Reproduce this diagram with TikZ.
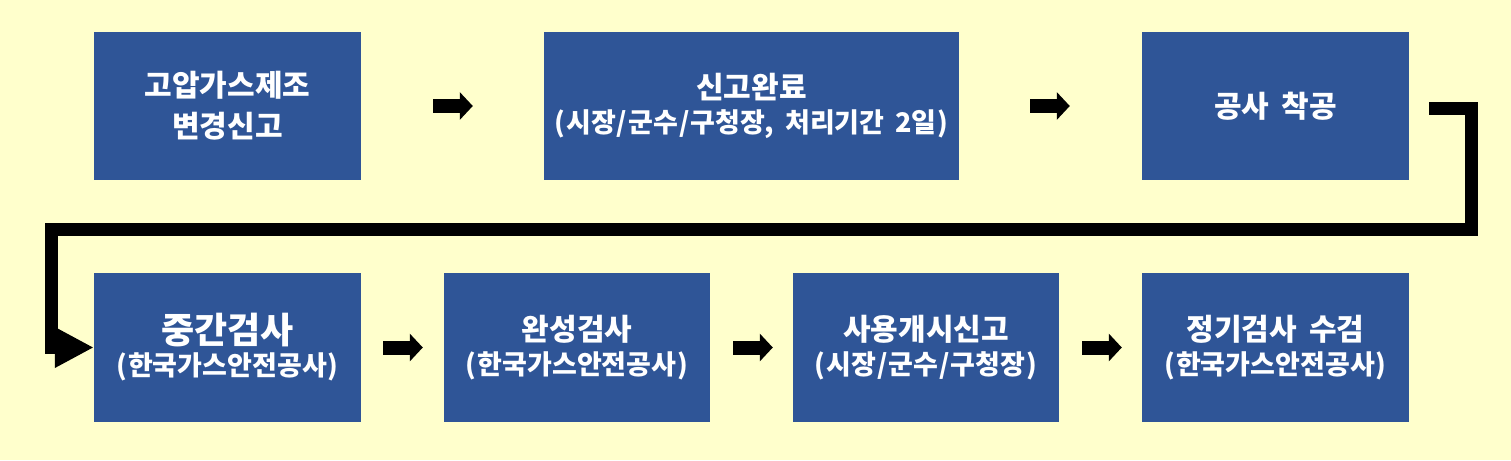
\documentclass[tikz,border=0pt]{standalone}
\usepackage{fontspec}
\setmainfont{Noto Sans CJK KR}
\usetikzlibrary{arrows.meta}
\definecolor{bgyellow}{HTML}{FFFFCC}
\definecolor{boxblue}{HTML}{2F5597}
\newcommand{\subline}[1]{{\fontsize{27}{27}\selectfont #1}}
\newcommand{\wsp}{\hspace{0.4em}}
\newcommand{\slsh}{\kern1pt/\kern1pt}
\begin{document}
\begin{tikzpicture}[x=1pt,y=-1pt,
  box/.style={fill=boxblue, draw=none, text=white, align=center, inner sep=0pt,
    minimum height=148pt, font=\bfseries\fontsize{30}{41}\selectfont},
  row2/.style={minimum height=149pt, font=\bfseries\fontsize{30}{36}\selectfont},
  fat/.style={line width=14pt, line cap=butt, -{Triangle[length=13pt,width=27pt]}},
  elbow/.style={line width=13pt, line join=miter, line cap=butt, -{Triangle[length=39pt,width=38pt]}}]
\useasboundingbox (0,0) rectangle (1511,460);
\fill[bgyellow] (0,0) rectangle (1511,460);
% row 1
\node[box, minimum width=267pt] (b1) at (227.5,106) {고압가스제조\\변경신고};
\node[box, minimum width=415pt, font=\bfseries\fontsize{30}{39}\selectfont] (b2) at (751.5,106)
  {신고완료\\[-5pt]\subline{(\kern1pt시장\slsh 군수\slsh 구청장,\wsp 처리기간\wsp 2일\kern1pt)}};
\node[box, minimum width=267pt] (b3) at (1275.5,106) {공사\wsp 착공};
% row 2
\node[box, row2, minimum width=267pt, font=\bfseries\fontsize{36}{36}\selectfont] (b4) at (227.5,347.5)
  {중간검사\\[-4pt]\subline{(\kern1pt한국가스안전공사\kern1pt)}};
\node[box, row2, minimum width=266pt] (b5) at (577,347.5)
  {완성검사\\[-2pt]\subline{(\kern1pt한국가스안전공사\kern1pt)}};
\node[box, row2, minimum width=266pt] (b6) at (926,347.5)
  {사용개시신고\\[-2pt]\subline{(\kern1pt시장\slsh 군수\slsh 구청장\kern1pt)}};
\node[box, row2, minimum width=267pt] (b7) at (1275.5,347.5)
  {정기검사\wsp 수검\\[-2pt]\subline{(\kern1pt한국가스안전공사\kern1pt)}};
% straight arrows
\draw[fat, shorten <=72pt, shorten >=71pt] (b1.east) -- (b2.west);
\draw[fat, shorten <=71pt, shorten >=72pt] (b2.east) -- (b3.west);
\draw[fat, shorten <=22pt, shorten >=21pt] (b4.east) -- (b5.west);
\draw[fat, shorten <=23pt, shorten >=20pt] (b5.east) -- (b6.west);
\draw[fat, shorten <=23pt, shorten >=20pt] (b6.east) -- (b7.west);
% elbow connector
\coordinate (e0) at (1429,108.5);
\coordinate (e1) at (1471.5,108.5);
\coordinate (e2) at (1471.5,229.5);
\coordinate (e3) at (51.5,229.5);
\coordinate (e4) at (51.5,347.5);
\draw[elbow] (e0) -- (e1) -- (e2) -- (e3) -- (e4) -- (b4.west);
\end{tikzpicture}
\end{document}
